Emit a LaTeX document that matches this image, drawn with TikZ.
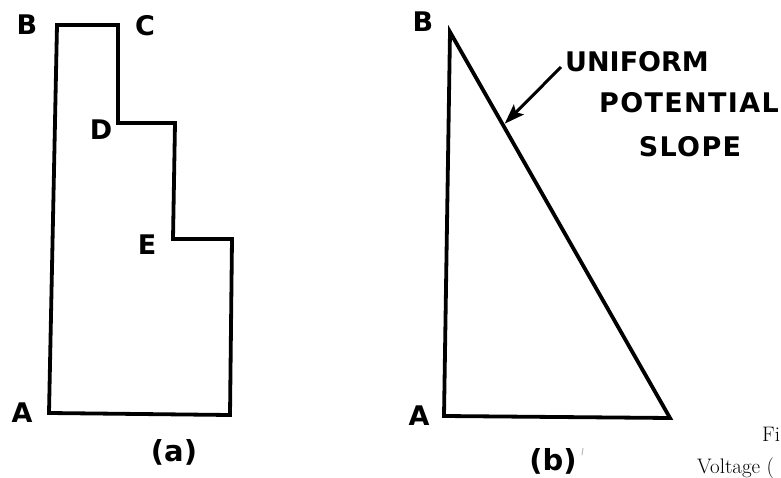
\documentclass[tikz,border=0pt]{standalone}
\usepackage{fontspec}
\newfontfamily\letterfont{DejaVu Sans}
\usetikzlibrary{arrows.meta}

\tikzset{
  lbl/.style={font=\letterfont\bfseries\fontsize{27}{27}\selectfont,inner sep=0pt},
  wide/.style={lbl,font=\letterfont\bfseries\fontsize{27}{27}\selectfont\addfontfeatures{LetterSpace=5}},
  sub/.style={font=\letterfont\bfseries\fontsize{29}{29}\selectfont,inner sep=0pt},
  capt/.style={font=\fontsize{21}{21}\selectfont,inner sep=0pt,anchor=west},
  outline/.style={line width=3.8pt},
}

\begin{document}
\begin{tikzpicture}[x=1pt,y=-1pt]
\clip (0,0) rectangle (781,478);

% (a) stepped section
\coordinate (bA) at (49,413);
\coordinate (bB) at (57,25);
\coordinate (bC) at (118,25);
\coordinate (bD) at (118,123);
\coordinate (bD2) at (175,123);
\coordinate (bE) at (173,239);
\coordinate (bE2) at (232,239);
\coordinate (bF) at (230,415);
\draw[outline] (bA) -- (bB) -- (bC) -- (bD) -- (bD2) -- (bE) -- (bE2) -- (bF) -- cycle;

\node[lbl] (labB) at (27,25) {B};
\node[lbl] (labC) at (145,26) {C};
\node[lbl] (labD) at (101,130) {D};
\node[lbl] (labE) at (147,245) {E};
\node[lbl] (labA) at (22,413) {A};
\node[sub] (suba) at (174,452) {(a)};

% (b) uniform slope
\coordinate (tB) at (450,32);
\coordinate (tA) at (444,416);
\coordinate (tR) at (670,418);
\draw[outline] (tB) -- (tA) -- (tR) -- cycle;
\path (tB) -- (tR) coordinate[pos=0.235] (tip);

\node[lbl] (labB2) at (423,22) {B};
\node[lbl] (labA2) at (419,416) {A};
\node[sub] (subb) at (553,461) {(b)};
\draw[gray!55,line width=1pt] (583,448) -- (582,455);

\node[lbl] (uniform) at (637,62) {UNIFORM};
\node[wide] (potential) at (689,103) {POTENTIAL};
\node[wide] (slope) at (690,147) {SLOPE};
\draw[line width=3pt,-{Stealth[length=20pt,width=14pt,inset=4pt]}]
  ([shift={(-4,5)}]uniform.west) -- ([shift={(3,1)}]tip);

% caption, cut by the page edge
\node[capt] (figno) at (762,434) {Fi};
\node[capt] (voltage) at (697,468) {Voltage (};
\end{tikzpicture}
\end{document}
